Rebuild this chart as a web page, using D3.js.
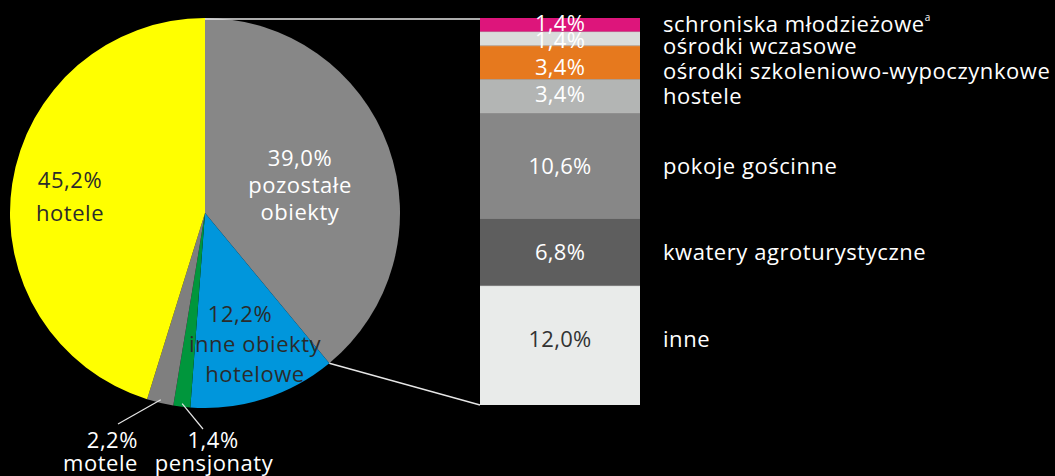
<!DOCTYPE html>
<html><head><meta charset="utf-8">
<script src="https://cdn.jsdelivr.net/npm/d3@7"></script>
<style>html,body{margin:0;padding:0;background:#000;}svg{display:block;}</style>
</head><body>
<svg id="c" width="1055" height="476"></svg>
<script>
// ---- data ----
const pieCategories = ["pozostałe obiekty", "inne obiekty hotelowe", "pensjonaty", "motele", "hotele"];
const pieValues = [39.0, 12.2, 1.4, 2.2, 45.2];
const pieLabels = [["39,0%", "pozostałe", "obiekty"], ["12,2%", "inne obiekty", "hotelowe"], ["1,4%", "pensjonaty"], ["2,2%", "motele"], ["45,2%", "hotele"]];

const barCategories = ["schroniska młodzieżowe", "ośrodki wczasowe", "ośrodki szkoleniowo-wypoczynkowe", "hostele", "pokoje gościnne", "kwatery agroturystyczne", "inne"];
const barValues = [1.4, 1.4, 3.4, 3.4, 10.6, 6.8, 12.0];
const barLabels = ["1,4%", "1,4%", "3,4%", "3,4%", "10,6%", "6,8%", "12,0%"];

// ---- styles ----
const pieColors = ["#878787", "#0096dc", "#00963c", "#7f7f7f", "#ffff00"];
const pieTextColors = ["#ffffff", "#2b2b2b", "#ffffff", "#ffffff", "#2b2b2b"];
const barColors = ["#dd157b", "#dadcdb", "#e6791e", "#b3b5b4", "#878787", "#5e5e5e", "#e9ebea"];
const barTextColors = ["#ffffff", "#ffffff", "#ffffff", "#ffffff", "#ffffff", "#ffffff", "#333333"];
const FONT = "'Open Sans', sans-serif";
const FS = 22, LS = 0.55;

const svg = d3.select("#c");
const cx = 205, cy = 213, R = 195;

const pie = d3.pie().sort(null).value(d => d)(pieValues);
const arc = d3.arc().innerRadius(0).outerRadius(R);
const g = svg.append("g").attr("transform", `translate(${cx},${cy})`);
g.selectAll("path").data(pie).join("path")
  .attr("d", arc).attr("fill", (d, i) => pieColors[i]);

// bar
const bx0 = 480, bx1 = 640;
const y = d3.scaleLinear().domain([0, d3.sum(barValues)]).range([18, 405]);
let cum = 0;
const segs = barValues.map((v, i) => { const s = { i, v, a: cum, b: cum + v }; cum += v; return s; });
svg.selectAll("rect.seg").data(segs).join("rect")
  .attr("x", bx0).attr("width", bx1 - bx0)
  .attr("y", d => y(d.a)).attr("height", d => y(d.b) - y(d.a))
  .attr("fill", d => barColors[d.i]);
svg.selectAll("line.sep").data(segs.slice(1)).join("line")
  .attr("x1", bx0).attr("x2", bx1).attr("y1", d => y(d.a)).attr("y2", d => y(d.a))
  .attr("stroke", "#c8c8c8").attr("stroke-width", 0.8).attr("opacity", 0.6);

// connector lines
const topPt = [cx, cy - R];
const endAngle = pie[0].endAngle;
const endPt = [cx + R * Math.sin(endAngle), cy - R * Math.cos(endAngle)];
svg.append("line").attr("x1", topPt[0]).attr("y1", topPt[1] + 1).attr("x2", bx0).attr("y2", y(0) + 1)
  .attr("stroke", "#e6e6e6").attr("stroke-width", 1.3);
svg.append("line").attr("x1", endPt[0]).attr("y1", endPt[1]).attr("x2", bx0).attr("y2", y(d3.sum(barValues)))
  .attr("stroke", "#e6e6e6").attr("stroke-width", 1.3);

// bar value labels
const barLabelBase = [31, 48, 75, 102, null, 260, 347];
svg.selectAll("text.bv").data(segs).join("text")
  .attr("x", (bx0 + bx1) / 2)
  .attr("y", d => barLabelBase[d.i] != null ? barLabelBase[d.i] : (y(d.a) + y(d.b)) / 2 + 8)
  .attr("text-anchor", "middle").attr("font-family", FONT).attr("font-size", FS)
  .attr("letter-spacing", 0.3)
  .attr("fill", d => barTextColors[d.i]).text(d => barLabels[d.i]);

// bar category labels
const catBase = [32, 54, 79, 104, null, 260, 347];
const catText = svg.selectAll("text.bc").data(segs).join("text")
  .attr("x", 663)
  .attr("y", d => catBase[d.i] != null ? catBase[d.i] : (y(d.a) + y(d.b)) / 2 + 8)
  .attr("font-family", FONT).attr("font-size", FS).attr("letter-spacing", LS).attr("fill", "#ffffff");
catText.each(function (d) {
  const t = d3.select(this);
  t.append("tspan").text(barCategories[d.i]);
  if (d.i === 0) t.append("tspan").attr("font-size", 10).attr("dy", -11).text("a");
});

// pie labels
const pieLabelPos = [
  { x: [300, 300, 300], y: 166, lh: 27, anchor: "middle" },
  { x: [240, 255, 255], y: 322, lh: 30, anchor: "middle" },
  { x: [213, 214], y: 448, lh: 23, anchor: "middle" },
  { x: [138, 138], y: 448, lh: 23, anchor: "end" },
  { x: [70, 70], y: 188, lh: 33, anchor: "middle" }
];
const pieOutside = [false, false, true, true, false];
pie.forEach((d, i) => {
  const p = pieLabelPos[i];
  const t = svg.append("text").attr("text-anchor", p.anchor).attr("font-family", FONT)
    .attr("font-size", FS).attr("letter-spacing", LS).attr("fill", pieTextColors[i]);
  pieLabels[i].forEach((s, k) => t.append("tspan").attr("x", p.x[k]).attr("y", p.y + k * p.lh).text(s));
});
// leader lines for small slices
const leaderEnds = [null, null, [203, 429], [118, 424], null];
pie.forEach((d, i) => {
  if (!pieOutside[i]) return;
  const mid = (d.startAngle + d.endAngle) / 2;
  const r0 = R - 3;
  const sx = cx + r0 * Math.sin(mid), sy = cy - r0 * Math.cos(mid);
  svg.append("line").attr("x1", sx).attr("y1", sy).attr("x2", leaderEnds[i][0]).attr("y2", leaderEnds[i][1])
    .attr("stroke", "#e6e6e6").attr("stroke-width", 1.2);
});
</script>
</body></html>
